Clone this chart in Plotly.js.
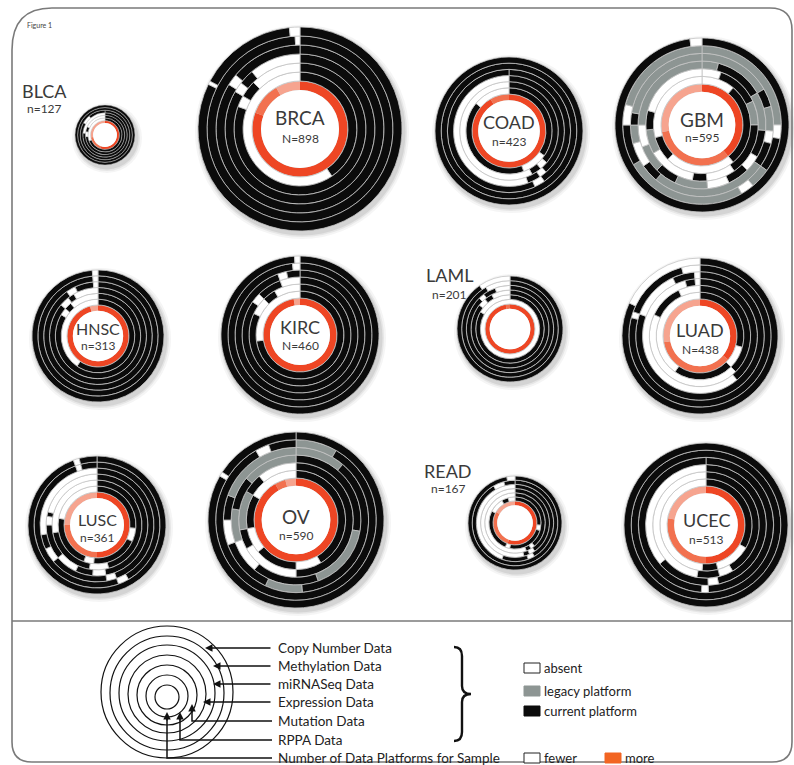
<!DOCTYPE html>
<html><head><meta charset="utf-8">
<script src="https://cdn.plot.ly/plotly-3.0.1.min.js"></script>
<style>html,body{margin:0;padding:0;background:#fff}#chart{width:794px;height:765px}</style>
</head><body><div id="chart"></div>
<script>
const W = 794, H = 765;

// ---------------- DATA ----------------
const cancers = ['BLCA','BRCA','COAD','GBM','HNSC','KIRC','LAML','LUAD','LUSC','OV','READ','UCEC'];
const sampleLabels = ['n=127','N=898','n=423','n=595','n=313','N=460','n=201','N=438','n=361','n=590','n=167','n=513'];
const ringOrder = ['Number of Data Platforms','RPPA','Mutation','Expression','miRNASeq','Methylation','Copy Number'];
const legendPlatforms = ['Copy Number Data','Methylation Data','miRNASeq Data','Expression Data','Mutation Data','RPPA Data','Number of Data Platforms for Sample'];
const statusNames = ['absent','legacy platform','current platform'];

// Each ring: list of [status, share of samples in degrees], clockwise from 12 o'clock.
// Ring 0 status = platform-count level (0 fewer .. 3 more); other rings: 0 absent, 1 legacy, 2 current.
const BLCA_rings = [
  [[3,200],[2,60],[1,100]],
  [[2,250],[0,110]],
  [[2,265],[0,15],[2,15],[0,65]],
  [[2,275],[0,85]],
  [[2,300],[0,20],[2,40]],
  [[2,360]],
  [[2,360]]
];
const BRCA_rings = [
  [[3,290],[2,40],[1,30]],
  [[2,146],[0,214]],
  [[2,290],[0,10],[2,15],[0,45]],
  [[2,300],[0,8],[2,12],[0,40]],
  [[2,302],[0,8],[2,50]],
  [[2,357],[0,3]],
  [[2,296],[0,2],[2,56],[0,6]]
];
const COAD_rings = [
  [[3,330],[2,30]],
  [[2,125],[0,35],[2,150],[0,50]],
  [[2,130],[0,10],[2,12],[0,208]],
  [[2,138],[0,8],[2,14],[0,200]],
  [[2,145],[0,10],[2,205]],
  [[2,360]],
  [[2,360]]
];
const GBM_rings = [
  [[3,140],[2,120],[1,100]],
  [[0,40],[2,100],[0,85],[2,30],[0,105]],
  [[0,20],[2,45],[1,25],[2,55],[0,30],[2,15],[0,50],[1,25],[2,20],[0,75]],
  [[1,15],[2,45],[1,35],[2,25],[0,15],[2,20],[0,20],[1,30],[2,20],[1,25],[0,20],[1,90]],
  [[1,60],[2,15],[1,20],[0,10],[2,20],[1,95],[2,15],[0,20],[1,15],[2,10],[1,80]],
  [[1,90],[0,10],[2,25],[1,15],[0,10],[1,90],[2,30],[0,15],[1,75]],
  [[2,352],[0,8]]
];
const HNSC_rings = [
  [[3,345],[1,15]],
  [[2,215],[0,145]],
  [[2,300],[0,10],[2,10],[0,40]],
  [[2,310],[0,12],[2,8],[0,30]],
  [[2,325],[0,10],[2,20],[0,5]],
  [[2,355],[0,5]],
  [[2,355],[0,5]]
];
const KIRC_rings = [
  [[3,350],[1,10]],
  [[2,262],[0,98]],
  [[2,295],[0,20],[2,15],[0,30]],
  [[2,305],[0,10],[2,25],[0,20]],
  [[2,340],[0,8],[2,12]],
  [[2,354],[0,6]],
  [[2,356],[0,4]]
];
const LAML_rings = [
  [[3,350],[2,10]],
  [[0,360]],
  [[2,300],[0,60]],
  [[2,308],[0,12],[2,12],[0,28]],
  [[2,315],[0,8],[2,17],[0,20]],
  [[2,330],[0,30]],
  [[2,325],[0,35]]
];
const LUAD_rings = [
  [[3,130],[2,130],[1,100]],
  [[2,105],[0,30],[2,80],[0,145]],
  [[2,135],[0,160],[2,40],[0,25]],
  [[2,140],[0,205],[2,10],[0,5]],
  [[2,290],[0,45],[2,20],[0,5]],
  [[2,285],[0,5],[2,55],[0,15]],
  [[2,295],[0,65]]
];
const LUSC_rings = [
  [[3,180],[2,90],[1,90]],
  [[2,95],[0,20],[2,70],[0,15],[2,80],[0,80]],
  [[2,165],[0,25],[2,70],[0,100]],
  [[2,170],[0,15],[2,20],[0,25],[2,40],[0,10],[2,5],[0,75]],
  [[2,160],[0,10],[2,60],[0,15],[2,15],[0,100]],
  [[2,150],[0,10],[2,180],[0,5],[2,15]],
  [[2,340],[0,5],[2,15]]
];
const OV_rings = [
  [[3,330],[2,15],[1,15]],
  [[2,150],[0,30],[2,50],[0,30],[2,40],[0,60]],
  [[2,180],[0,60],[2,20],[1,40],[2,20],[0,40]],
  [[2,100],[1,60],[2,60],[0,30],[1,30],[2,30],[1,50]],
  [[1,40],[2,135],[1,30],[2,45],[0,20],[2,20],[1,70]],
  [[1,30],[2,300],[0,10],[2,20]],
  [[2,300],[0,3],[2,57]]
];
const READ_rings = [
  [[3,200],[2,100],[1,60]],
  [[2,95],[0,12],[2,85],[0,10],[2,95],[0,33],[2,15],[0,15]],
  [[2,140],[0,8],[2,10],[0,202]],
  [[2,145],[0,10],[2,10],[0,195]],
  [[2,150],[0,10],[2,40],[0,160]],
  [[2,330],[0,15],[2,15]],
  [[2,350],[0,10]]
];
const UCEC_rings = [
  [[3,180],[2,100],[1,80]],
  [[2,120],[0,45],[2,20],[0,175]],
  [[2,150],[0,15],[2,25],[0,170]],
  [[2,168],[0,10],[2,52],[0,130]],
  [[2,178],[0,6],[2,176]],
  [[2,360]],
  [[2,360]]
];
const ringData = {BLCA:BLCA_rings,BRCA:BRCA_rings,COAD:COAD_rings,GBM:GBM_rings,HNSC:HNSC_rings,KIRC:KIRC_rings,
  LAML:LAML_rings,LUAD:LUAD_rings,LUSC:LUSC_rings,OV:OV_rings,READ:READ_rings,UCEC:UCEC_rings};

// ---------------- LAYOUT (pixels) ----------------
// [cx, cy, outer radius, outer radius of the platform-count ring]
const donutPos = {
  BLCA:[105,135,30,14.5], BRCA:[300,129,102,48], COAD:[509,131,74,37], GBM:[702,125,87,41],
  HNSC:[98,336,66,31], KIRC:[300,335,79,37], LAML:[510,329,53,25], LUAD:[700,336,78,37],
  LUSC:[97,525,69,33], OV:[296,520,88,42], READ:[515,523,47,22], UCEC:[706,525,82,39]
};
// [x, name y, n y, name font size]
const labelPos = {
  BLCA:[44,91,109,18], BRCA:[300,117,138,19], COAD:[509,122,141,18], GBM:[702,119,137,19],
  HNSC:[98,328,346,16], KIRC:[300,327,346,18], LAML:[449,275,294,18], LUAD:[700,330,350,18],
  LUSC:[97,519,537,16], OV:[296,516,535,19], READ:[448,471,489,18], UCEC:[706,520,539,18]
};

const STATE_COLORS = ['#ffffff','#8d9593','#0b0b0b'];
const LEVEL_COLORS = ['#fbd5ca','#f6a48f','#f2714f','#ee4624'];
const TXT = '#3a3a3a';
const FONT = 'Lato, "Open Sans", sans-serif';

const px = x => x / W;
const py = y => 1 - y / H;

const traces = [];
const layout = {
  width: W, height: H, margin:{l:0,r:0,t:0,b:0},
  paper_bgcolor:'#ffffff', plot_bgcolor:'#ffffff', showlegend:false,
  font:{family:FONT, color:TXT},
  shapes:[], annotations:[]
};

cancers.forEach((c, k) => {
  const pid = k === 0 ? 'polar' : 'polar' + (k + 1);
  const [cx, cy, R, Ro] = donutPos[c];
  const t = (R - Ro) / 6;
  const r0 = Ro - t;
  const pad = 4;
  // soft drop shadow
  [[R + 5, 0.05], [R + 3, 0.08], [R + 1.5, 0.1]].forEach(([rr, a]) => {
    layout.shapes.push({type:'circle', xref:'paper', yref:'paper', layer:'below',
      x0:px(cx + 2 - rr), x1:px(cx + 2 + rr), y0:py(cy + 3 + rr), y1:py(cy + 3 - rr),
      fillcolor:'rgba(60,60,60,' + a + ')', line:{width:0}});
  });
  const sepW = R < 40 ? 0.5 : 0.8;
  ringData[c].forEach((segs, j) => {
    const total = segs.reduce((a, s) => a + s[1], 0);
    let start = 0;
    const theta = [], width = [], colors = [], r = [], base = [];
    segs.forEach(([st, w]) => {
      const ww = w * 360 / total;
      theta.push(start + ww / 2); width.push(ww); start += ww;
      colors.push(j === 0 ? LEVEL_COLORS[st] : STATE_COLORS[st]);
      r.push(j === 0 ? t * 0.95 : t); base.push(r0 + j * t);
    });
    traces.push({type:'barpolar', subplot:pid, r, base, theta, width,
      name: c + ' ' + ringOrder[j],
      marker:{color:colors, line:{color: j === 0 ? 'rgba(0,0,0,0)' : '#c4c4c4', width: j === 0 ? 0 : sepW}},
      hoverinfo:'skip', showlegend:false});
  });
  // white centre
  traces.push({type:'barpolar', subplot:pid, r:[r0], base:[0], theta:[180], width:[360],
    marker:{color:['#ffffff'], line:{width:0}}, hoverinfo:'skip', showlegend:false});
  layout[pid] = {
    domain:{x:[px(cx - R - pad), px(cx + R + pad)], y:[py(cy + R + pad), py(cy - R - pad)]},
    bgcolor:'rgba(0,0,0,0)', barmode:'overlay', bargap:0, hole:0,
    radialaxis:{visible:false, range:[0, R + pad]},
    angularaxis:{visible:false, rotation:90, direction:'clockwise'}
  };
  const [lx, ly1, ly2, fs] = labelPos[c];
  layout.annotations.push({xref:'paper',yref:'paper',x:px(lx),y:py(ly1),text:c,showarrow:false,
    font:{size:fs,color:TXT,family:FONT},xanchor:'center',yanchor:'middle'});
  layout.annotations.push({xref:'paper',yref:'paper',x:px(lx),y:py(ly2),text:sampleLabels[k],showarrow:false,
    font:{size:12,color:TXT,family:FONT},xanchor:'center',yanchor:'middle'});
});

// ---------------- frame ----------------
const P = (x, y) => px(x).toFixed(5) + ',' + py(y).toFixed(5);
layout.shapes.push({type:'path', xref:'paper', yref:'paper',
  path:'M' + P(12,50) + ' Q' + P(12,8) + ' ' + P(52,8) + ' L' + P(770,8) + ' Q' + P(792,8) + ' ' + P(792,30) +
       ' L' + P(792,742) + ' Q' + P(792,762) + ' ' + P(772,762) + ' L' + P(32,762) + ' Q' + P(12,762) + ' ' + P(12,742) + ' Z',
  line:{color:'#7a7a7a', width:1.6}, fillcolor:'rgba(0,0,0,0)'});
layout.shapes.push({type:'line', xref:'paper', yref:'paper', x0:px(12), x1:px(792), y0:py(621), y1:py(621),
  line:{color:'#7a7a7a', width:1.6}});
layout.annotations.push({xref:'paper',yref:'paper',x:px(25),y:py(25),text:'Figure 1',showarrow:false,
  font:{size:7,color:'#444',family:FONT},xanchor:'left',yanchor:'middle'});

// ---------------- legend ----------------
const legendRadii = [12,21,30,39,48,57,66];
const legendCy = [697,696,695,694,693,693,692];
legendRadii.forEach((rr, i) => {
  layout.shapes.push({type:'circle', xref:'paper', yref:'paper',
    x0:px(167 - rr), x1:px(167 + rr), y0:py(legendCy[i] + rr), y1:py(legendCy[i] - rr),
    line:{color:'#111', width:1.2}});
});
const legendTextY = [648,666,684,702,721,740,758];
legendPlatforms.forEach((name, i) => {
  layout.annotations.push({xref:'paper',yref:'paper',x:px(276),y:py(legendTextY[i]),text:name,showarrow:false,
    font:{size:13.5,color:'#222',family:FONT},xanchor:'left',yanchor:'middle'});
});
const straightTips = [[205,648],[213,666],[213,684],[203,702]];
straightTips.forEach(([tx, ty]) => {
  layout.annotations.push({xref:'paper',yref:'paper',x:px(tx),y:py(ty),ax:272 - tx,ay:0,text:'',showarrow:true,
    arrowhead:2,arrowsize:1,arrowwidth:1.5,arrowcolor:'#111'});
});
const elbows = [[721,192,704],[740,180,712],[758,167,712]];
elbows.forEach(([ry, ex, tipY]) => {
  layout.shapes.push({type:'path', xref:'paper', yref:'paper',
    path:'M' + P(272, ry) + ' L' + P(ex, ry) + ' L' + P(ex, tipY + 6), line:{color:'#111', width:1.5}});
  layout.annotations.push({xref:'paper',yref:'paper',x:px(ex),y:py(tipY),ax:0,ay:10,text:'',showarrow:true,
    arrowhead:2,arrowsize:1,arrowwidth:1.5,arrowcolor:'#111'});
});
layout.shapes.push({type:'path', xref:'paper', yref:'paper',
  path:'M' + P(454,647) + ' Q' + P(462,647) + ' ' + P(462,656) + ' L' + P(462,686) + ' Q' + P(462,694) + ' ' + P(471,694) +
       ' Q' + P(462,694) + ' ' + P(462,702) + ' L' + P(462,732) + ' Q' + P(462,741) + ' ' + P(454,741),
  line:{color:'#111', width:2.4}});
const statusY = [668,691,711];
statusNames.forEach((s, i) => {
  layout.shapes.push({type:'rect', xref:'paper', yref:'paper', x0:px(524), x1:px(540), y0:py(statusY[i] + 5), y1:py(statusY[i] - 5),
    fillcolor:STATE_COLORS[i], line:{color: i === 0 ? '#222' : STATE_COLORS[i], width:1}});
  layout.annotations.push({xref:'paper',yref:'paper',x:px(542),y:py(statusY[i]),text:s,showarrow:false,
    font:{size:13,color:'#222',family:FONT},xanchor:'left',yanchor:'middle'});
});
layout.shapes.push({type:'rect', xref:'paper', yref:'paper', x0:px(524), x1:px(540), y0:py(763), y1:py(753),
  fillcolor:'#ffffff', line:{color:'#222', width:1}});
layout.annotations.push({xref:'paper',yref:'paper',x:px(542),y:py(758),text:'fewer',showarrow:false,
  font:{size:13,color:'#222',family:FONT},xanchor:'left',yanchor:'middle'});
layout.shapes.push({type:'rect', xref:'paper', yref:'paper', x0:px(605), x1:px(621), y0:py(763), y1:py(753),
  fillcolor:'#f26522', line:{color:'#f26522', width:1}});
layout.annotations.push({xref:'paper',yref:'paper',x:px(623),y:py(758),text:'more',showarrow:false,
  font:{size:13,color:'#222',family:FONT},xanchor:'left',yanchor:'middle'});

Plotly.newPlot('chart', traces, layout, {staticPlot:true, displayModeBar:false});
</script>
</body></html>
